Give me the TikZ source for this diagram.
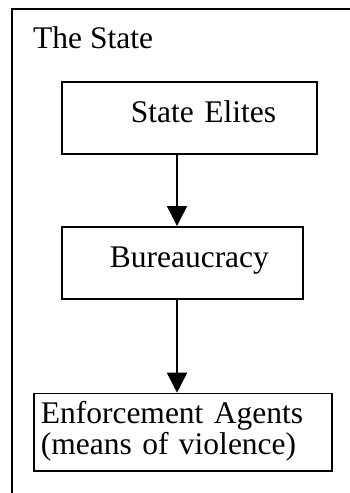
\documentclass[tikz,border=0pt]{standalone}
\usepackage{fontspec}
\setmainfont{Liberation Serif}
\usetikzlibrary{arrows.meta}
\begin{document}
\begin{tikzpicture}[x=1pt,y=-1pt,
  txt/.style={font=\fontsize{31.5}{31}\selectfont},
  box/.style={draw,line width=1.6pt,inner xsep=0pt,inner ysep=0pt,anchor=north west,
    align=left,txt},
  arr/.style={line width=1.6pt,-{Triangle[length=20pt,width=20pt]}},
  frame/.style={draw,line width=2pt}]
\useasboundingbox (0,0) rectangle (350,493);
\begin{scope}
  \clip (0,0) rectangle (350,493);
  \draw[frame] (12,9) rectangle (370,520);
\end{scope}
\node[anchor=base west,inner sep=0pt,txt] (title) at (33,48) {The State};
\node[box,text width=255pt,text height=41pt,text depth=31pt] (elites) at (61,81) {\hspace*{69pt}State Elites};
\node[box,text width=241pt,text height=41pt,text depth=31pt] (bur) at (61,226) {\hspace*{48pt}Bureaucracy};
\node[box,text width=298pt,text height=29.6pt,text depth=47.7pt] (enf) at (33,392.7) {\hspace*{7pt}Enforcement Agents\\\hspace*{7pt}(means of violence)};
\draw[arr] (177,0 |- elites.south) -- (177,0 |- bur.north);
\draw[arr] (177,0 |- bur.south) -- (177,0 |- enf.north);
\end{tikzpicture}
\end{document}
